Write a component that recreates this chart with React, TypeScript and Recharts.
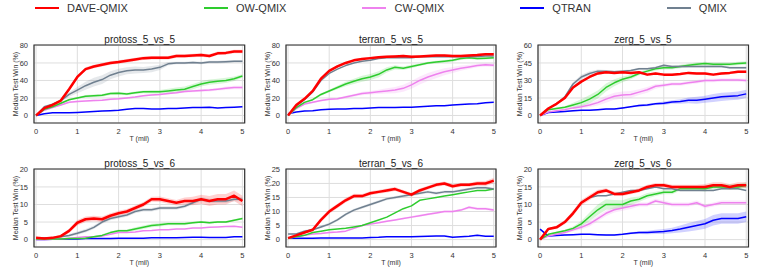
import React from 'react';
import { ComposedChart, Line, Area, XAxis, YAxis, CartesianGrid, ReferenceArea, Label } from 'recharts';

// ---------- data ----------
const T = [0, 0.2, 0.4, 0.6, 0.8, 1, 1.2, 1.4, 1.6, 1.8, 2, 2.2, 2.4, 2.6, 2.8, 3, 3.2, 3.4, 3.6, 3.8, 4, 4.2, 4.4, 4.6, 4.8, 5];
const X_TICKS = [0, 1, 2, 3, 4, 5];

// protoss_5_vs_5
const p55_dave = [0, 8.4, 12, 17, 30, 44, 53, 56, 58, 60, 61, 62.5, 64, 65.5, 66, 66, 66, 68, 68, 68.5, 69, 68, 71, 71.5, 73, 73];
const p55_qmix = [0, 10, 13, 17, 24, 29, 34, 38, 41, 46, 49, 51, 52, 52, 53, 55, 59, 60, 60, 60.5, 60, 61, 61, 61.5, 62, 62];
const p55_ow = [0, 7, 10, 14, 18, 20, 22, 22.5, 23, 25, 25.5, 24.5, 26, 27, 27, 27, 28, 29, 30, 33, 36, 38, 39, 40, 42, 45];
const p55_cw = [0, 6, 9, 12, 15, 16, 16.5, 17, 17.5, 18.5, 19, 20, 21, 22.5, 23.5, 24, 25, 26, 27.5, 28, 28.5, 29, 30, 31, 32, 32];
const p55_qtran = [0, 2, 3, 3, 3.2, 3.5, 4, 4.5, 5, 5.5, 6, 7, 8, 8, 7.5, 7.5, 8, 8, 8.5, 9, 9, 9.5, 8.5, 9, 9.5, 10];
const p55_dave_band = [0, 1, 1, 1, 1.5, 2, 2, 2, 2, 2, 2, 2, 2, 2, 2, 2, 2, 2, 2, 2, 2, 2, 2, 2, 2, 2];
const p55_qmix_band = [0, 1, 1, 1.5, 2.5, 3.5, 4.5, 5, 5, 4.5, 4.5, 4, 4, 3.5, 3.5, 3, 2, 1.5, 1.5, 1.5, 1.5, 1.5, 1.5, 1.5, 1.5, 1.5];
const p55_ow_band = [0, 0.5, 0.5, 1, 1, 1, 1.5, 1.5, 1.5, 1.5, 1.5, 1.5, 1.5, 1.5, 2, 2, 2.5, 3, 3, 3, 3, 3, 3, 3, 2.5, 2];
const p55_cw_band = [0, 0.5, 0.5, 1, 1, 1, 1, 1, 1, 1, 1, 1, 1, 1, 1, 1, 1, 1, 1.5, 1.5, 1.5, 1.5, 1.5, 2, 2, 2];

// terran_5_vs_5
const t55_dave = [0, 12, 19, 28, 42, 51, 56, 60, 63, 64.5, 65.5, 66.5, 67, 67.5, 68, 67, 67.5, 68, 68.5, 68.5, 68, 68, 68.5, 69, 70, 70];
const t55_qmix = [0, 11, 18, 27, 40, 48, 53, 57, 60, 62, 63, 65, 66, 66, 66, 66, 67, 67, 67, 67.5, 67, 67, 67, 67.5, 68, 68];
const t55_ow = [0, 9, 15, 18, 24, 28, 32, 36, 39, 42, 44, 47, 52, 55, 54, 56, 58, 60, 61, 62, 63, 65, 66, 65, 65.5, 66];
const t55_cw = [0, 8, 13, 15, 17, 18.5, 19, 21, 23, 25, 26, 27, 28, 29, 31, 35, 40, 44, 47, 50, 52, 54, 55.5, 57, 58, 57.5];
const t55_qtran = [2, 4, 5, 5.5, 6.5, 7, 7.5, 7.5, 8, 8, 8.5, 9, 9, 9, 9.5, 9.5, 10, 10.5, 11, 11, 12, 12.5, 13, 13.5, 14.5, 15];
const t55_dave_band = [0, 1, 1, 1, 1.5, 1.5, 1.5, 1.5, 1.5, 1.5, 1.5, 1.5, 1.5, 1.5, 1.5, 1.5, 1.5, 1.5, 1.5, 1.5, 1.5, 1.5, 1.5, 1.5, 1.5, 1.5];
const t55_ow_band = [0, 1, 1, 1, 1.5, 1.5, 2, 2.5, 3, 3.5, 3.5, 3.5, 3, 2.5, 2, 2, 1.5, 1.5, 1.5, 1.5, 1.5, 1.5, 1.5, 1.5, 1.5, 1.5];
const t55_cw_band = [0, 1, 1, 1, 1, 1, 1, 1.5, 1.5, 2, 2, 2.5, 3, 3.5, 4, 4.5, 4.5, 4.5, 4.5, 4, 3.5, 3, 2.5, 2, 2, 2];

// zerg_5_vs_5
const z55_dave = [0, 6, 10, 15, 24, 29, 33, 36, 37, 36.5, 37, 36.5, 37, 35, 36, 35, 35, 35.5, 36.5, 36, 36, 35, 36, 36.5, 37.5, 37.5];
const z55_qmix = [0, 6, 10, 16, 27, 33, 36, 38, 38, 37.5, 38, 38.5, 40, 40, 41, 43, 42, 42, 42, 42, 42, 42, 42, 41, 41, 41];
const z55_ow = [0, 5, 6, 7, 9, 11, 14, 18, 24, 28, 31, 33, 36, 38, 40, 41, 41, 42, 43, 44, 44.5, 44, 44, 44, 44.5, 45];
const z55_cw = [0, 3, 4, 5, 6.5, 7.5, 9, 11, 14, 16.5, 17.5, 18, 20, 22, 25, 26, 27, 27, 28, 29, 30, 30, 30.5, 30.5, 30.5, 30];
const z55_qtran = [0, 2.5, 3, 3.5, 4, 4.5, 4.5, 5, 5.5, 5.5, 6.5, 7.5, 8.5, 9, 10, 10.5, 11.5, 12, 13, 13, 14, 15, 16, 16.5, 17, 18.5];
const z55_dave_band = [0, 0.5, 0.5, 1, 1, 1, 1, 1, 1, 1, 1, 1, 1, 1, 1, 1, 1, 1, 1, 1, 1, 1, 1, 1, 1, 1];
const z55_qmix_band = [0, 0.5, 0.5, 1, 1.5, 2, 2, 1.5, 1, 1, 1, 1, 1, 1, 1, 1, 1, 1, 1, 1, 1, 1, 1, 1, 1, 1];
const z55_ow_band = [0, 0.5, 1, 1, 2, 3, 3.5, 3.5, 3.5, 3, 2.5, 2, 1.5, 1.5, 1.5, 1.5, 1.5, 1.5, 1.5, 1.5, 1.5, 1.5, 1.5, 1.5, 1.5, 1.5];
const z55_cw_band = [0, 0.5, 0.5, 1, 1, 1.5, 2, 2.5, 3, 3, 3, 3, 2.5, 2.5, 2, 1.5, 1.5, 1.5, 1.5, 1.5, 1.5, 1.5, 1.5, 1.5, 1.5, 1.5];
const z55_qtran_band = [0, 0.5, 0.5, 0.5, 0.5, 0.5, 0.5, 0.5, 0.5, 0.5, 0.5, 0.5, 1, 1, 1, 1.5, 1.5, 2, 2.5, 3, 3, 3.5, 3.5, 3.5, 3.5, 3.5];

// protoss_5_vs_6
const p56_dave = [0.5, 0.3, 0.5, 1, 2.5, 4.8, 5.8, 6, 5.8, 6.8, 7.5, 8, 9, 10, 11.5, 11.5, 11, 10.5, 11, 11, 11.5, 11, 11.5, 11.5, 12.5, 11];
const p56_qmix = [0.5, 0.5, 0.5, 0.8, 1.2, 1.8, 2.5, 3.5, 5, 6, 6.5, 7, 8, 8.5, 8.5, 9, 9, 9, 9.5, 10.5, 11.5, 11, 11, 11, 11.5, 11.5];
const p56_ow = [0.2, 0.2, 0.2, 0.2, 0.3, 0.3, 0.4, 0.8, 1.2, 2, 2.5, 2.5, 3, 3.5, 4, 4.2, 4.5, 4.5, 4.5, 4.8, 5, 4.8, 5, 5, 5.5, 6];
const p56_cw = [0, 0, 0.1, 0.2, 0.4, 0.6, 0.8, 0.8, 1, 1.5, 2, 2, 2.2, 2.5, 2.6, 2.8, 2.8, 3, 3, 3.3, 3.3, 3.5, 3.6, 3.7, 3.8, 3.5];
const p56_qtran = [0, 0, 0.1, 0.1, 0.2, 0.2, 0.3, 0.3, 0.3, 0.3, 0.4, 0.4, 0.4, 0.4, 0.5, 0.5, 0.5, 0.5, 0.6, 0.7, 0.7, 0.6, 0.6, 0.6, 0.8, 0.8];
const p56_dave_band = [0, 0.2, 0.3, 0.4, 0.6, 0.8, 0.8, 0.8, 0.8, 0.7, 0.7, 0.7, 0.7, 0.7, 0.7, 0.8, 0.8, 0.8, 1, 1.2, 1.3, 1.4, 1.5, 1.5, 1.5, 1.5];
const p56_qmix_band = [0, 0.2, 0.2, 0.3, 0.4, 0.5, 0.5, 0.5, 0.5, 0.5, 0.5, 0.5, 0.5, 0.5, 0.5, 0.5, 0.5, 0.5, 0.5, 0.5, 0.6, 0.6, 0.6, 0.6, 0.6, 0.6];
const p56_ow_band = [0, 0, 0, 0, 0.1, 0.1, 0.2, 0.2, 0.3, 0.3, 0.4, 0.4, 0.5, 0.5, 0.5, 0.5, 0.4, 0.4, 0.4, 0.3, 0.3, 0.3, 0.3, 0.3, 0.3, 0.3];

// terran_5_vs_6
const t56_dave = [0.5, 1.5, 2.5, 3.5, 7, 10, 12, 14, 15.5, 15.5, 16.5, 17, 17.5, 18, 17, 16, 17.5, 18.5, 19.5, 20, 19, 19.5, 19.5, 20, 20, 21];
const t56_qmix = [2, 2, 3, 3.5, 4.5, 5.5, 7, 9, 10.5, 11.5, 12.5, 13.5, 14.5, 15, 15.5, 16, 16.5, 17, 16.5, 17, 17, 17.5, 18, 18.5, 18.5, 18];
const t56_ow = [0.5, 1, 1.5, 2.5, 3, 3.5, 3.8, 4, 4.5, 5, 6, 7, 8, 9.5, 11, 12, 14, 14.5, 15, 15.5, 16, 16.5, 17, 17.5, 17.5, 18];
const t56_cw = [0.5, 1, 1.5, 2, 2.2, 2.5, 2.7, 3, 4, 5, 5.5, 6, 6.5, 7, 7.5, 8, 8.5, 9, 9.5, 10, 10, 10.5, 11.5, 11, 11, 10.5];
const t56_qtran = [0.5, 0.5, 0.5, 0.5, 0.6, 0.6, 0.6, 0.6, 0.6, 0.6, 0.7, 0.8, 1, 1, 1, 1, 1.1, 1.2, 1.3, 1.3, 0.8, 1, 1.2, 1.5, 1.2, 1.2];
const t56_dave_band = [0, 0.3, 0.4, 0.5, 0.7, 0.8, 0.8, 0.8, 0.8, 0.7, 0.7, 0.7, 0.7, 0.7, 0.7, 0.7, 0.7, 0.7, 0.7, 0.7, 0.7, 0.7, 0.7, 0.8, 0.9, 1];
const t56_qmix_band = [0, 0.3, 0.4, 0.4, 0.5, 0.5, 0.5, 0.5, 0.5, 0.5, 0.5, 0.5, 0.5, 0.5, 0.5, 0.5, 0.5, 0.5, 0.5, 0.5, 0.5, 0.5, 0.5, 0.5, 0.5, 0.5];
const t56_cw_band = [0, 0.2, 0.2, 0.2, 0.3, 0.3, 0.3, 0.3, 0.3, 0.3, 0.3, 0.3, 0.3, 0.3, 0.3, 0.4, 0.4, 0.4, 0.4, 0.4, 0.4, 0.4, 0.5, 0.5, 0.5, 0.5];

// zerg_5_vs_6
const z56_dave = [0, 3, 3.5, 5, 7.5, 10.5, 12, 13.5, 14, 13, 13, 13.5, 14, 15, 15.5, 15.5, 15, 15, 15, 15, 15, 15.5, 15.5, 15, 15.5, 15.5];
const z56_qmix = [0, 3, 3.5, 5, 7.5, 10.5, 12, 12.5, 12.5, 13, 13.5, 14, 14, 14.5, 15, 14.5, 14.5, 14, 14, 14, 14, 14, 14.5, 14.5, 14.5, 14];
const z56_ow = [0, 1.5, 2, 2.5, 3.2, 4.5, 6.5, 8.5, 10, 10, 10, 11, 11.5, 12.5, 13, 13.5, 13.5, 14.5, 14.5, 14.5, 14.5, 15, 15, 15, 15, 15.5];
const z56_cw = [0, 1, 1.5, 2, 2.8, 3.5, 4.5, 6, 7.5, 8.5, 9, 9.5, 10, 10, 11, 10.5, 10, 10, 10, 10.5, 9.5, 10, 10.5, 10.5, 10.5, 10.5];
const z56_qtran = [3, 1, 1.2, 1.3, 1.4, 1.5, 1.5, 1.4, 1.3, 1.3, 1.5, 1.8, 2, 2, 2.2, 2.3, 2.6, 3, 3.5, 4, 4.5, 5.5, 6, 6, 6, 6.5];
const z56_dave_band = [0, 0.3, 0.5, 0.6, 0.8, 0.8, 0.8, 0.7, 0.6, 0.6, 0.6, 0.6, 0.6, 0.6, 0.6, 0.6, 0.6, 0.6, 0.6, 0.6, 0.8, 0.8, 0.8, 0.8, 0.8, 0.8];
const z56_ow_band = [0, 0.2, 0.3, 0.3, 0.5, 0.8, 1.2, 1.5, 1.5, 1.3, 1.2, 1, 0.8, 0.8, 0.6, 0.6, 0.6, 0.6, 0.6, 0.6, 0.8, 0.8, 0.8, 0.8, 0.8, 0.8];
const z56_cw_band = [0, 0.2, 0.3, 0.3, 0.5, 0.6, 0.8, 0.8, 0.8, 0.8, 0.8, 0.8, 0.6, 0.6, 0.6, 0.6, 0.6, 0.6, 0.6, 0.6, 0.6, 0.6, 0.6, 0.6, 0.6, 0.6];
const z56_qtran_band = [0, 0.2, 0.2, 0.2, 0.2, 0.2, 0.2, 0.2, 0.2, 0.2, 0.2, 0.3, 0.4, 0.5, 0.6, 0.7, 0.8, 1, 1.2, 1.3, 1.4, 1.5, 1.5, 1.5, 1.5, 1.5];

// ---------- styles ----------
const SERIES = [
  { key: 'qtran', name: 'QTRAN', color: '#0000ff', width: 1.5 },
  { key: 'cw', name: 'CW-QMIX', color: '#ee82ee', width: 1.5 },
  { key: 'ow', name: 'OW-QMIX', color: '#2ecc2e', width: 1.5 },
  { key: 'qmix', name: 'QMIX', color: '#708090', width: 1.5 },
  { key: 'dave', name: 'DAVE-QMIX', color: '#ff0000', width: 2.5 },
];
const LEGEND_ORDER = ['dave', 'ow', 'cw', 'qtran', 'qmix'];

const FONT = '"Liberation Sans", Arial, sans-serif';
const X_DOMAIN = [-0.05, 5.055];
const YW = 36, MT = 14, MR = 8, XH = 26;

const PANELS = [
  { title: 'protoss_5_vs_5', x: 34.3, y: 44.5, w: 210.7, h: 78, domain: [-8.6, 80.5], ticks: [0, 20, 40, 60, 80],
    series: { dave: p55_dave, qmix: p55_qmix, ow: p55_ow, cw: p55_cw, qtran: p55_qtran },
    bands: { dave: p55_dave_band, qmix: p55_qmix_band, ow: p55_ow_band, cw: p55_cw_band } },
  { title: 'terran_5_vs_5', x: 286, y: 44.5, w: 210, h: 78, domain: [-8.6, 80.5], ticks: [0, 20, 40, 60, 80],
    series: { dave: t55_dave, qmix: t55_qmix, ow: t55_ow, cw: t55_cw, qtran: t55_qtran },
    bands: { dave: t55_dave_band, ow: t55_ow_band, cw: t55_cw_band } },
  { title: 'zerg_5_vs_5', x: 537.7, y: 44.5, w: 210.5, h: 78, domain: [-6.45, 60.4], ticks: [0, 15, 30, 45, 60],
    series: { dave: z55_dave, qmix: z55_qmix, ow: z55_ow, cw: z55_cw, qtran: z55_qtran },
    bands: { dave: z55_dave_band, qmix: z55_qmix_band, ow: z55_ow_band, cw: z55_cw_band, qtran: z55_qtran_band } },
  { title: 'protoss_5_vs_6', x: 34.3, y: 169.3, w: 210.7, h: 78, domain: [-2.1, 20.1], ticks: [0, 5, 10, 15, 20],
    series: { dave: p56_dave, qmix: p56_qmix, ow: p56_ow, cw: p56_cw, qtran: p56_qtran },
    bands: { dave: p56_dave_band, qmix: p56_qmix_band, ow: p56_ow_band } },
  { title: 'terran_5_vs_6', x: 286, y: 169.3, w: 210, h: 78, domain: [-2.65, 25.15], ticks: [0, 5, 10, 15, 20, 25],
    series: { dave: t56_dave, qmix: t56_qmix, ow: t56_ow, cw: t56_cw, qtran: t56_qtran },
    bands: { dave: t56_dave_band, qmix: t56_qmix_band, cw: t56_cw_band } },
  { title: 'zerg_5_vs_6', x: 537.7, y: 169.3, w: 210.5, h: 78, domain: [-2.1, 20.1], ticks: [0, 5, 10, 15, 20],
    series: { dave: z56_dave, qmix: z56_qmix, ow: z56_ow, cw: z56_cw, qtran: z56_qtran },
    bands: { dave: z56_dave_band, ow: z56_ow_band, cw: z56_cw_band, qtran: z56_qtran_band } },
];

const XLabel = (props: any) => {
  const vb = props.viewBox || {};
  return (
    <text x={vb.x + vb.width / 2} y={vb.y + 15.8} textAnchor="middle" dominantBaseline="central"
      fontSize={7} fill="#333" fontFamily={FONT}>T (mil)</text>
  );
};

const YLabel = (props: any) => {
  const vb = props.viewBox || {};
  const cx = vb.x + vb.width - 18.6;
  const cy = vb.y + vb.height / 2;
  return (
    <text x={cx} y={cy} transform={`rotate(-90 ${cx} ${cy})`} textAnchor="middle" dominantBaseline="central"
      fontSize={7} fill="#333" fontFamily={FONT}>Median Test Win (%)</text>
  );
};

function Panel({ cfg }: { cfg: any }) {
  const data = T.map((t, i) => {
    const row: any = { t };
    for (const s of SERIES) {
      const v = cfg.series[s.key][i];
      row[s.key] = v;
      const b = cfg.bands[s.key];
      if (b) row[s.key + '_band'] = [v - b[i], v + b[i]];
    }
    return row;
  });
  const W = cfg.w + YW + MR;
  const H = cfg.h + MT + XH;
  const tickStyle = { fontSize: 7.5, fill: '#333', fontFamily: FONT };
  return (
    <div style={{ position: 'absolute', left: cfg.x - YW, top: cfg.y - MT, width: W, height: H }}>
      <ComposedChart width={W} height={H} data={data} margin={{ top: MT, right: MR, bottom: 0, left: 0 }}>
        <CartesianGrid stroke="#dedede" strokeWidth={1} />
        <XAxis dataKey="t" type="number" domain={X_DOMAIN} ticks={X_TICKS} allowDataOverflow
          tickLine={false} axisLine={false} tickSize={0} tickMargin={6} height={XH} tick={tickStyle}
          interval={0}>
          <Label content={XLabel} />
        </XAxis>
        <YAxis type="number" domain={cfg.domain} ticks={cfg.ticks} allowDataOverflow width={YW}
          tickLine={false} axisLine={false} tickSize={0} tickMargin={6} tick={tickStyle} interval={0}>
          <Label content={YLabel} />
        </YAxis>
        {SERIES.filter((s) => cfg.bands[s.key]).map((s) => (
          <Area key={s.key + '_band'} dataKey={s.key + '_band'} type="linear" stroke="none"
            fill={s.color} fillOpacity={0.18} isAnimationActive={false} dot={false} activeDot={false} />
        ))}
        {SERIES.map((s) => (
          <Line key={s.key} dataKey={s.key} type="linear" stroke={s.color} strokeWidth={s.width}
            dot={false} activeDot={false} isAnimationActive={false} strokeLinejoin="round" />
        ))}
        <ReferenceArea x1={X_DOMAIN[0]} x2={X_DOMAIN[1]} y1={cfg.domain[0]} y2={cfg.domain[1]}
          fill="none" fillOpacity={0} stroke="#333" strokeWidth={1.2} ifOverflow="visible" />
      </ComposedChart>
      <div style={{ position: 'absolute', left: YW, width: cfg.w, top: MT - 5 - 7, height: 14, lineHeight: '14px',
        textAlign: 'center', fontSize: 10, color: '#222', fontFamily: FONT, whiteSpace: 'nowrap' }}>{cfg.title}</div>
    </div>
  );
}

function Legend() {
  return (
    <div style={{ position: 'absolute', left: 35, top: 1, height: 14, display: 'flex', alignItems: 'center', gap: 76 }}>
      {LEGEND_ORDER.map((k) => {
        const s = SERIES.find((x) => x.key === k)!;
        return (
          <div key={k} style={{ display: 'flex', alignItems: 'center' }}>
            <div style={{ width: 24, height: s.width, background: s.color, marginRight: 8 }} />
            <span style={{ fontSize: 11, color: '#333', fontFamily: FONT, lineHeight: '14px', whiteSpace: 'nowrap' }}>{s.name}</span>
          </div>
        );
      })}
    </div>
  );
}

export default function App() {
  return (
    <div style={{ position: 'fixed', left: 0, top: 0, width: 761, height: 280, background: '#fff', overflow: 'hidden', fontFamily: FONT }}>
      <Legend />
      {PANELS.map((p) => <Panel key={p.title} cfg={p} />)}
    </div>
  );
}
